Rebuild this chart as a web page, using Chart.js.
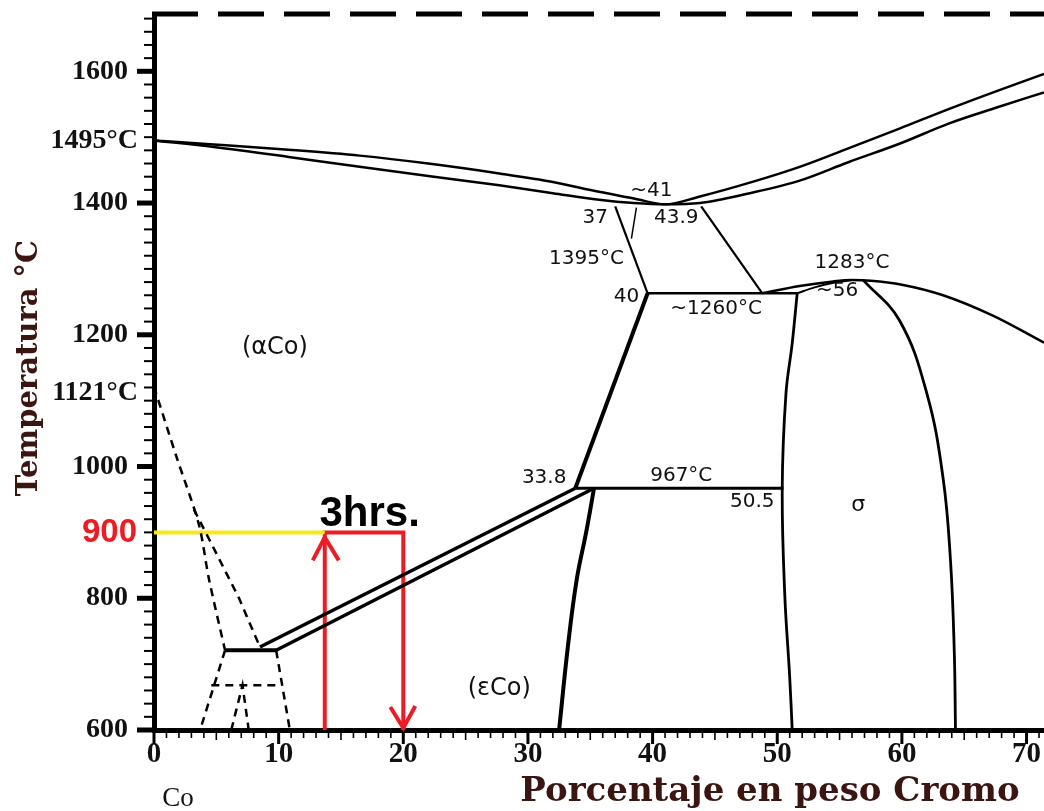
<!DOCTYPE html>
<html>
<head>
<meta charset="utf-8">
<script src="https://cdn.jsdelivr.net/npm/chart.js@4"></script>
<style>
  html, body { margin: 0; padding: 0; background: #fff; }
  canvas { display: block; }
</style>
</head>
<body>
<canvas id="chart" width="1044" height="811"></canvas>
<script>
// Co–Cr phase diagram (wt% Cr vs. temperature), 600–1690 °C

const xTicks = [0, 10, 20, 30, 40, 50, 60, 70];
const yTicks = [600, 800, 1000, 1200, 1400, 1600];

// liquidus / solidus with the congruent minimum near 41 wt% Cr
const liquidusX = [0, 4.8, 10.8, 16.5, 22, 27.7, 32, 35.7, 38.5, 41, 43.8, 47.8, 51.8, 55.7, 59.8, 63.8, 67.6, 71.4];
const liquidusT = [1495, 1489, 1481, 1472, 1460, 1445, 1432, 1417, 1407, 1398, 1410, 1431, 1455, 1483, 1513, 1543, 1570, 1596];
const solidusX  = [0, 4.8, 10.8, 16.5, 22, 27.7, 32, 35.7, 38.5, 41, 43.8, 47.8, 51.8, 55.7, 59.8, 63.8, 67.6, 71.4];
const solidusT  = [1495, 1485, 1470, 1455, 1441, 1427, 1415, 1405, 1400, 1398, 1400, 1415, 1434, 1462, 1490, 1521, 1545, 1568];

// (αCo) / (αCo)+(Cr) boundary, 37 → 40 → 33.8
const alphaUpperX = [37, 39.6];
const alphaUpperT = [1395, 1263];
const alphaLowerX = [39.6, 33.8];
const alphaLowerT = [1263, 967];
const tieMarkX = [38.7, 38.3];
const tieMarkT = [1393, 1346];

// (Cr) boundary from 43.9 down to the 1260 °C line
const crSideX = [43.9, 48.8];
const crSideT = [1395, 1263];

// isotherms
const iso1260X = [39.6, 51.6];
const iso1260T = [1263, 1263];
const iso967X = [33.8, 50.5];
const iso967T = [967, 967];
const iso721X = [5.7, 9.8];
const iso721T = [721, 721];

// σ phase field
const sigmaDomeX = [48.8, 51.8, 54.5, 56, 57.5, 60, 63.3, 67.3, 71.4];
const sigmaDomeT = [1263, 1274, 1281, 1283, 1282, 1276, 1260, 1229, 1188];
const sigmaInnerX = [51.6, 53, 54.5, 56];
const sigmaInnerT = [1263, 1272, 1279, 1283];
const sigmaLeftX = [51.6, 51.2, 50.7, 50.4, 50.6, 51.0, 51.2];
const sigmaLeftT = [1263, 1187, 1111, 967, 807, 680, 600];
const sigmaRightX = [56.9, 59.8, 62.0, 63.3, 63.9, 64.2, 64.3];
const sigmaRightT = [1283, 1222, 1111, 983, 857, 720, 600];

// (εCo) boundary below the eutectoid
const epsX = [35.3, 34.7, 33.9, 33.2, 32.5];
const epsT = [967, 903, 827, 726, 600];

// (αCo)+(εCo) band
const bandUpperX = [8.5, 33.8];
const bandUpperT = [726, 967];
const bandLowerX = [9.8, 35.3];
const bandLowerT = [721, 967];

// dashed lines on the Co side
const curieX = [0, 1.8, 3.6, 4.4, 5.7];
const curieT = [1121, 1015, 912, 830, 721];
const fccHcpX = [3.2, 4.6, 6.8, 8.5];
const fccHcpT = [935, 883, 801, 726];
const lowLeftX = [5.7, 3.7];
const lowLeftT = [721, 600];
const lowRightX = [9.8, 10.9];
const lowRightT = [721, 600];
const lowIsoX = [4.6, 10.2];
const lowIsoT = [668, 668];
const lowVeeX = [6.2, 7.1, 7.6];
const lowVeeT = [600, 668, 600];

// 900 °C treatment path
const holdTemp = 900;
const yellowX = [0, 13.7];
const yellowT = [holdTemp, holdTemp];
const redX = [13.7, 13.7, 20, 20];
const redT = [600, holdTemp, holdTemp, 600];

// text placed in the diagram: [text, wt% Cr, °C, font size]
const fieldNotes = [
  ['(\u03B1Co)', 9.7, 1181, 24],
  ['(\u03B5Co)', 27.7, 663, 24],
  ['\u03C3', 56.5, 941, 22],
  ['~41', 39.9, 1418, 20],
  ['37', 35.4, 1378, 20],
  ['43.9', 41.9, 1378, 20],
  ['1395\u00B0C', 34.7, 1316, 20],
  ['40', 37.9, 1258, 20],
  ['~1260\u00B0C', 45.1, 1240, 20],
  ['1283\u00B0C', 56.0, 1310, 20],
  ['~56', 54.8, 1267, 20],
  ['33.8', 31.3, 983, 20],
  ['967\u00B0C', 42.3, 986, 20],
  ['50.5', 48.0, 947, 20]
];

function pts(xs, ts) { return xs.map((x, i) => ({ x: x, y: ts[i] })); }
function curve(xs, ts, width, extra) {
  return Object.assign({
    data: pts(xs, ts), showLine: true, borderColor: '#000', borderWidth: width,
    pointRadius: 0, tension: 0, fill: false
  }, extra || {});
}
const smooth = { cubicInterpolationMode: 'monotone' };
const bend = { tension: 0.4 };
const dash = { borderDash: [8, 6] };

const datasets = [
  curve(liquidusX, liquidusT, 2.5, smooth),
  curve(solidusX, solidusT, 2.5, smooth),
  curve(alphaUpperX, alphaUpperT, 2.2),
  curve(alphaLowerX, alphaLowerT, 4),
  curve(tieMarkX, tieMarkT, 1.5),
  curve(crSideX, crSideT, 2.2),
  curve(iso1260X, iso1260T, 2.5),
  curve(iso967X, iso967T, 3),
  curve(iso721X, iso721T, 4),
  curve(sigmaDomeX, sigmaDomeT, 2.5, smooth),
  curve(sigmaInnerX, sigmaInnerT, 2, smooth),
  curve(sigmaLeftX, sigmaLeftT, 2.8, bend),
  curve(sigmaRightX, sigmaRightT, 2.8, bend),
  curve(epsX, epsT, 4, bend),
  curve(bandUpperX, bandUpperT, 3.5),
  curve(bandLowerX, bandLowerT, 3.5),
  curve(curieX, curieT, 2.5, Object.assign({ tension: 0.3 }, dash)),
  curve(fccHcpX, fccHcpT, 2.5, dash),
  curve(lowLeftX, lowLeftT, 2.5, dash),
  curve(lowRightX, lowRightT, 2.5, dash),
  curve(lowIsoX, lowIsoT, 2.5, dash),
  curve(lowVeeX, lowVeeT, 2.5, dash),
  curve(yellowX, yellowT, 4, { borderColor: '#f6e81c' }),
  curve(redX, redT, 4, { borderColor: '#ec1c24' })
];

const SERIF = "'Liberation Serif', 'Times New Roman', serif";
const TITLE_SERIF = "'DejaVu Serif', 'Liberation Serif', serif";
const SANS = "'DejaVu Sans', sans-serif";
const TITLE_COLOR = '#3b1510';

// axis ticks, frame, titles, in-diagram text and arrowheads
const decorations = {
  id: 'decorations',
  afterDatasetsDraw(chart) {
    const ctx = chart.ctx;
    const xs = chart.scales.x, ys = chart.scales.y;
    const area = chart.chartArea;
    ctx.save();

    // dashed top frame
    ctx.strokeStyle = '#000';
    ctx.lineWidth = 5;
    ctx.setLineDash([46, 20]);
    ctx.beginPath();
    ctx.moveTo(area.left - 2, area.top);
    ctx.lineTo(area.right, area.top);
    ctx.stroke();
    ctx.setLineDash([]);

    // temperature ticks every 20 °C
    for (let t = 600; t <= 1680; t += 20) {
      const py = ys.getPixelForValue(t);
      const major = t % 200 === 0;
      ctx.lineWidth = major ? 5 : 2;
      ctx.beginPath();
      ctx.moveTo(area.left, py);
      ctx.lineTo(area.left - (major ? 17 : 10), py);
      ctx.stroke();
    }
    // composition ticks every 1 wt%
    for (let c = 0; c <= 71; c += 1) {
      const px = xs.getPixelForValue(c);
      const major = c % 10 === 0;
      const mid = c % 5 === 0;
      ctx.lineWidth = major ? 3 : 1.6;
      ctx.beginPath();
      ctx.moveTo(px, area.bottom);
      ctx.lineTo(px, area.bottom + (major ? 14 : (mid ? 10 : 8)));
      ctx.stroke();
    }

    // red arrowheads
    ctx.strokeStyle = '#ec1c24';
    ctx.lineWidth = 4;
    ctx.lineCap = 'butt';
    const upX = xs.getPixelForValue(redX[0]);
    const upY = ys.getPixelForValue(redT[1]) + 5;
    ctx.beginPath();
    ctx.moveTo(upX - 12, upY + 23);
    ctx.lineTo(upX, upY);
    ctx.lineTo(upX + 14, upY + 23);
    ctx.stroke();
    const dnX = xs.getPixelForValue(redX[3]);
    const dnY = ys.getPixelForValue(redT[3]) - 2;
    ctx.beginPath();
    ctx.moveTo(dnX - 13, dnY - 21);
    ctx.lineTo(dnX, dnY);
    ctx.lineTo(dnX + 12, dnY - 22);
    ctx.stroke();

    // field labels
    ctx.fillStyle = '#111';
    ctx.textAlign = 'center';
    ctx.textBaseline = 'middle';
    fieldNotes.forEach(n => {
      ctx.font = n[3] + 'px ' + SANS;
      ctx.fillText(n[0], xs.getPixelForValue(n[1]), ys.getPixelForValue(n[2]));
    });

    // treatment time
    ctx.fillStyle = '#000';
    ctx.font = "bold 42px 'Liberation Sans', Arial, sans-serif";
    ctx.textBaseline = 'alphabetic';
    ctx.fillText('3hrs.', xs.getPixelForValue(17.3), ys.getPixelForValue(910));

    // extra temperature labels on the left
    ctx.textAlign = 'right';
    ctx.textBaseline = 'middle';
    ctx.font = 'bold 28px ' + SERIF;
    ctx.fillStyle = '#111';
    ctx.fillText('1495\u00B0C', area.left - 16, ys.getPixelForValue(1495));
    ctx.fillText('1121\u00B0C', area.left - 16, ys.getPixelForValue(1121) + 6);
    ctx.fillStyle = '#ec1c24';
    ctx.font = "bold 33px 'Liberation Sans', Arial, sans-serif";
    ctx.fillText(String(holdTemp), area.left - 17, ys.getPixelForValue(holdTemp) + 1);

    // Co end member
    ctx.fillStyle = '#111';
    ctx.textAlign = 'center';
    ctx.font = '27px ' + SERIF;
    ctx.fillText('Co', 178, 799);

    // axis titles
    ctx.fillStyle = TITLE_COLOR;
    ctx.font = 'bold 34px ' + TITLE_SERIF;
    ctx.textBaseline = 'alphabetic';
    ctx.fillText('Porcentaje en peso Cromo', 770, 801);
    ctx.save();
    ctx.translate(37, 368);
    ctx.rotate(-Math.PI / 2);
    ctx.font = 'bold 29px ' + TITLE_SERIF;
    ctx.fillText('Temperatura \u00B0C', 0, 0);
    ctx.restore();

    ctx.restore();
  }
};

new Chart(document.getElementById('chart'), {
  type: 'scatter',
  data: { datasets: datasets },
  options: {
    responsive: false,
    animation: false,
    devicePixelRatio: 1,
    events: [],
    layout: { padding: { top: 14, right: 0, left: 0, bottom: 0 } },
    plugins: { legend: { display: false }, tooltip: { enabled: false } },
    scales: {
      x: {
        type: 'linear', min: 0, max: 71.4,
        afterBuildTicks: s => { s.ticks = xTicks.map(v => ({ value: v })); },
        afterFit: s => { s.height = 81; s.paddingLeft = 0; s.paddingRight = 0; },
        grid: { display: false, drawTicks: false },
        border: { display: true, width: 5, color: '#000' },
        ticks: {
          padding: 7, color: '#111', maxRotation: 0, autoSkip: false,
          font: { family: SERIF, size: 29, weight: 'bold' },
          callback: v => String(v)
        }
      },
      y: {
        type: 'linear', min: 600, max: 1687,
        afterBuildTicks: s => { s.ticks = yTicks.map(v => ({ value: v })); },
        afterFit: s => { s.width = 154; s.paddingTop = 0; s.paddingBottom = 0; },
        grid: { display: false, drawTicks: false },
        border: { display: true, width: 5, color: '#000' },
        ticks: {
          padding: 26, color: '#111', autoSkip: false,
          font: { family: SERIF, size: 28, weight: 'bold' },
          callback: v => String(v)
        }
      }
    }
  },
  plugins: [decorations]
});
</script>
</body>
</html>
